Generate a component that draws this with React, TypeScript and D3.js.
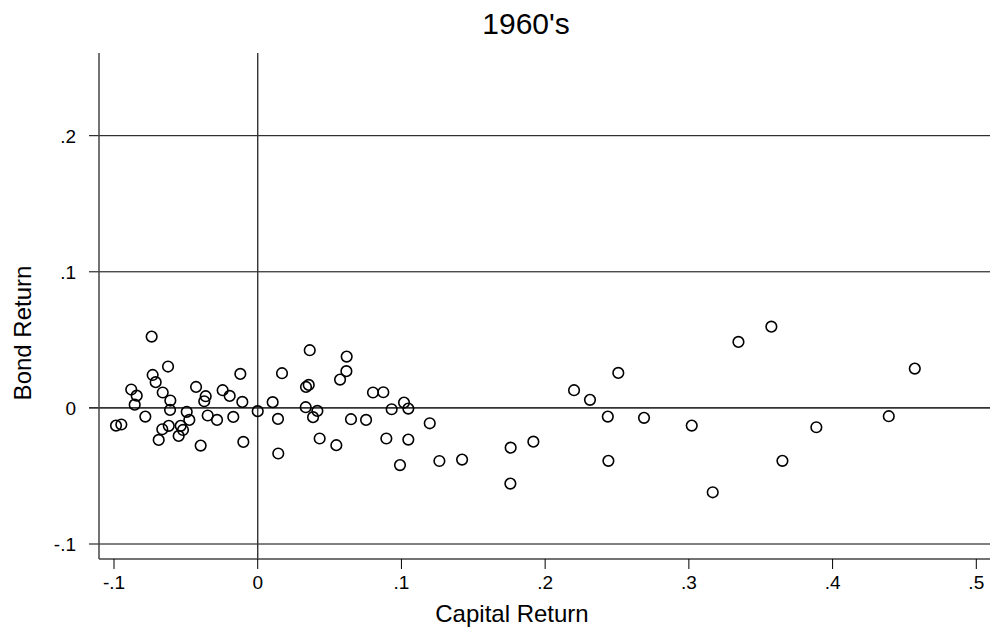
import * as d3 from "d3";

// Capital return (x) and bond return (y)
const capitalReturn = [
  -0.0738, -0.0624, -0.0731, -0.071, -0.088, -0.0842, -0.0856, -0.0661, -0.0608, -0.061,
  -0.0782, -0.0986, -0.0949, -0.0689, -0.0664, -0.0619, -0.055, -0.0536, -0.052, -0.0494,
  -0.0476, -0.0429, -0.0362, -0.0372, -0.0348, -0.0283, -0.0397, -0.0244, -0.0195, -0.017,
  -0.0121, -0.0107, -0.01, 0, 0.0104, 0.0141, 0.0169, 0.0143,
  0.0362, 0.0619, 0.0617, 0.0573, 0.0336, 0.0355, 0.0802, 0.0874, 0.1018, 0.1048,
  0.0932, 0.0334, 0.0415, 0.0385, 0.0649, 0.0754, 0.1197, 0.0431, 0.0547, 0.0895,
  0.1048, 0.099, 0.1264, 0.1422,
  0.176, 0.1918, 0.1758, 0.2201, 0.2312, 0.2509, 0.2436, 0.2688, 0.244, 0.302,
  0.3166, 0.3345, 0.3574, 0.3651, 0.3887, 0.4391, 0.4572,
];

const bondReturn = [
  0.0524, 0.0304, 0.0242, 0.0189, 0.0135, 0.009, 0.0024, 0.0113, 0.0054, -0.0015,
  -0.0064, -0.013, -0.0122, -0.0235, -0.0157, -0.0132, -0.0206, -0.0132, -0.0162, -0.0029,
  -0.0088, 0.0154, 0.0086, 0.0049, -0.0056, -0.0088, -0.0277, 0.013, 0.0088, -0.0066,
  0.025, 0.0044, -0.025, -0.0024, 0.0042, -0.0081, 0.0255, -0.0335,
  0.0424, 0.0377, 0.027, 0.0208, 0.0154, 0.0169, 0.0113, 0.0115, 0.0039, -0.0005,
  -0.001, 0.0005, -0.0022, -0.0068, -0.0083, -0.0088, -0.0113, -0.0225, -0.0274, -0.0225,
  -0.0233, -0.042, -0.039, -0.038,
  -0.0292, -0.0248, -0.0556, 0.013, 0.0059, 0.0257, -0.0064, -0.0073, -0.0389, -0.013,
  -0.062, 0.0485, 0.0597, -0.0389, -0.0142, -0.0061, 0.0289,
];

const xTicks = [-0.1, 0, 0.1, 0.2, 0.3, 0.4, 0.5];
const yTicks = [-0.1, 0, 0.1, 0.2];

const width = 990;
const height = 634;
const frame = { left: 99, top: 53, right: 990, bottom: 559 };
const font = "'Liberation Sans', Arial, sans-serif";

// Stata style labels: ".1", "-.1", "0" (plain hyphen for minus)
const fmt = (v: number) =>
  v === 0 ? "0" : d3.format(".1f")(v).replace("\u2212", "-").replace("0.", ".");

export default function App() {
  const x = d3.scaleLinear().domain([-0.1, 0.5]).range([114, 976.3]);
  const y = d3.scaleLinear().domain([-0.1, 0.2]).range([544, 135.7]);

  const points = capitalReturn.map((c, i) => ({ x: c, y: bondReturn[i] }));

  return (
    <svg
      width={width}
      height={height}
      style={{ position: "absolute", left: 0, top: 0, background: "#fff" }}
      fontFamily={font}
    >
      {/* horizontal grid lines with ticks */}
      {yTicks.map((t) => (
        <line
          key={"gy" + t}
          x1={frame.left - 10}
          x2={frame.right}
          y1={y(t)}
          y2={y(t)}
          stroke={t === 0 ? "#333" : "#000"}
          strokeWidth={t === 0 ? 1.6 : 1}
        />
      ))}
      {/* vertical zero line */}
      <line x1={x(0)} x2={x(0)} y1={frame.top} y2={frame.bottom} stroke="#333" strokeWidth={1.4} />

      {/* axes */}
      <line x1={frame.left} x2={frame.left} y1={frame.top} y2={frame.bottom} stroke="#444" strokeWidth={1.5} />
      <line x1={frame.left} x2={frame.right} y1={frame.bottom} y2={frame.bottom} stroke="#444" strokeWidth={1.5} />

      {yTicks.map((t) => (
        <text key={"ly" + t} x={76} y={y(t) + 7} textAnchor="end" fontSize={19} fill="#000">
          {fmt(t)}
        </text>
      ))}

      {xTicks.map((t) => (
        <g key={"gx" + t}>
          <line x1={x(t)} x2={x(t)} y1={frame.bottom} y2={frame.bottom + 10} stroke="#000" strokeWidth={1} />
          <text x={x(t)} y={589} textAnchor="middle" fontSize={19} fill="#000">
            {fmt(t)}
          </text>
        </g>
      ))}

      {/* points */}
      {points.map((p, i) => (
        <circle
          key={i}
          cx={x(p.x)}
          cy={y(p.y)}
          r={5.3}
          fill="none"
          stroke="#000"
          strokeWidth={1.6}
        />
      ))}

      {/* titles */}
      <text x={526} y={34} textAnchor="middle" fontSize={30} fill="#000">
        1960's
      </text>
      <text x={512} y={622} textAnchor="middle" fontSize={24} fill="#000">
        Capital Return
      </text>
      <text
        transform={`translate(31, 333) rotate(-90)`}
        textAnchor="middle"
        fontSize={24}
        fill="#000"
      >
        Bond Return
      </text>
    </svg>
  );
}
